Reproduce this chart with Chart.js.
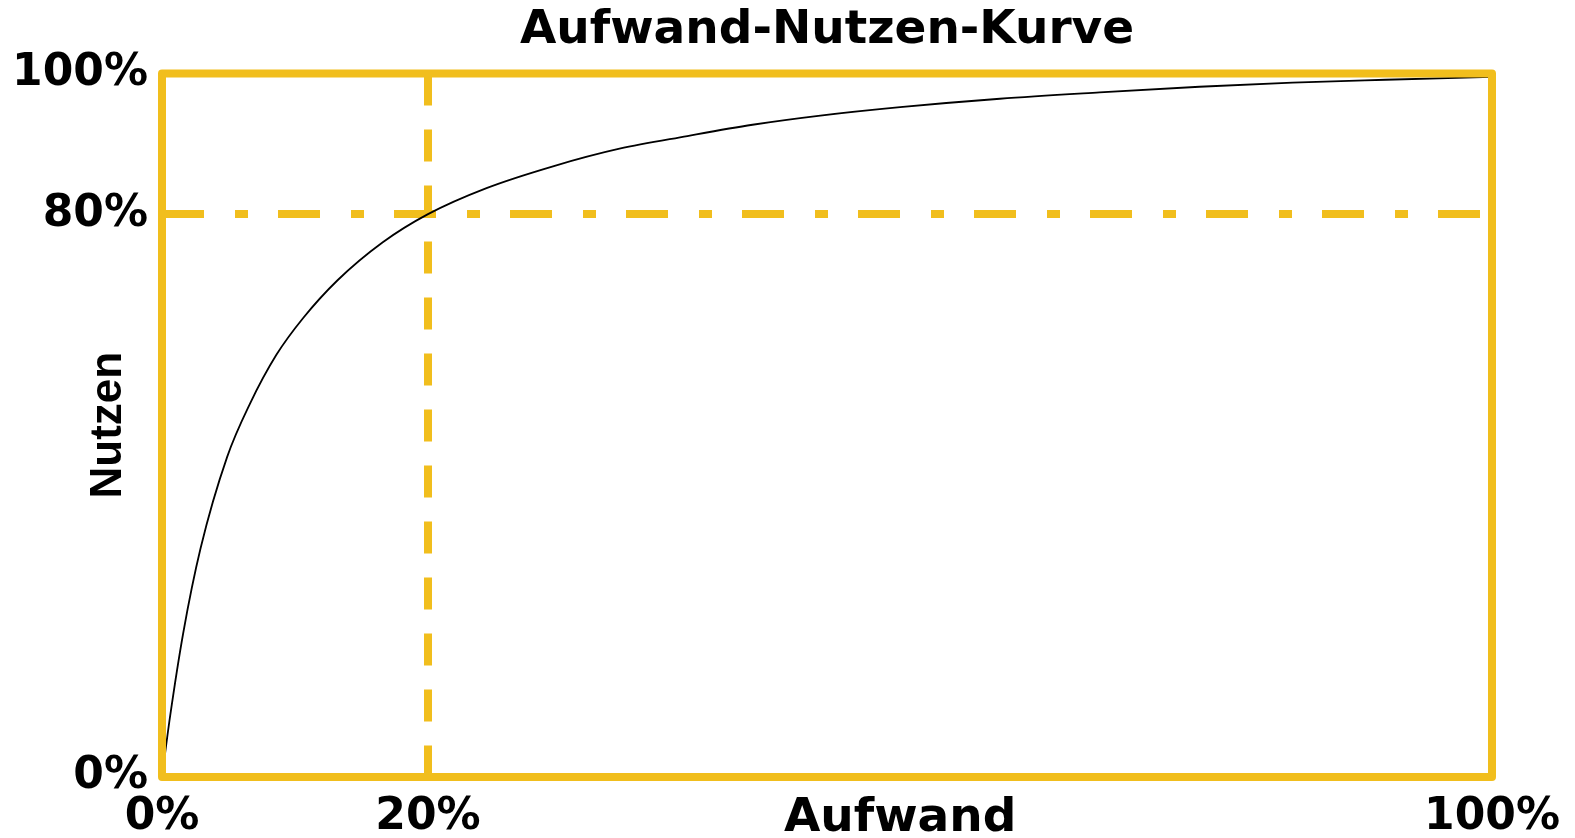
<!DOCTYPE html>
<html>
<head>
<meta charset="utf-8">
<title>Aufwand-Nutzen-Kurve</title>
<script src="https://cdn.jsdelivr.net/npm/chart.js@4/dist/chart.umd.min.js"></script>
<style>
    html, body { margin: 0; padding: 0; background: #ffffff; }
    #chart { display: block; }
</style>
</head>
<body>
<canvas id="chart" width="1575" height="838"></canvas>
<script>
// Curve: effort (%) vs benefit (%)
const effort  = [0, 0.6, 1.6, 2.9, 4.9, 6.6, 8.6, 10.6, 13.2, 16.6, 20, 24.4, 29.4, 34.4, 39.5, 44.4, 49.5, 55.5, 63, 70.5, 78, 85, 92, 100];
const benefit = [0, 8.5, 20.5, 32.5, 45.5, 53, 60, 65.2, 70.6, 76, 80, 83.7, 86.8, 89.3, 91.1, 92.7, 94.0, 95.2, 96.4, 97.3, 98.1, 98.7, 99.1, 99.5];

// Pareto marker lines
const markerEffort = 20;
const markerBenefit = 80;

// Tick labels
const xTickValues = [0, 20, 100];
const yTickValues = [0, 80, 100];
const xAxisTitle = 'Aufwand';
const yAxisTitle = 'Nutzen';
const chartTitle = 'Aufwand-Nutzen-Kurve';

const YELLOW = '#F1BE1D';
const AXIS_TITLE_POS = 55.5; // where "Aufwand" sits on the x axis row

// Yellow frame around the plot area
const framePlugin = {
    id: 'frame',
    afterDatasetsDraw(chart) {
        const { ctx, chartArea } = chart;
        ctx.save();
        ctx.strokeStyle = YELLOW;
        ctx.lineWidth = 8;
        ctx.lineJoin = 'round';
        ctx.strokeRect(chartArea.left, chartArea.top,
            chartArea.right - chartArea.left, chartArea.bottom - chartArea.top);
        ctx.restore();
    }
};

const curve = effort.map((x, i) => ({ x: x, y: benefit[i] }));

new Chart(document.getElementById('chart'), {
    type: 'line',
    data: {
        datasets: [
            {
                data: curve,
                borderColor: '#000000',
                borderWidth: 1.8,
                pointRadius: 0,
                cubicInterpolationMode: 'monotone',
                fill: false
            },
            {
                data: [{ x: markerEffort, y: 100 }, { x: markerEffort, y: 0 }],
                borderColor: YELLOW,
                borderWidth: 8,
                borderDash: [32, 24],
                borderCapStyle: 'butt',
                pointRadius: 0,
                tension: 0
            },
            {
                data: [{ x: 0, y: markerBenefit }, { x: 100, y: markerBenefit }],
                borderColor: YELLOW,
                borderWidth: 8,
                borderDash: [42, 31, 13, 30],
                borderCapStyle: 'butt',
                pointRadius: 0,
                tension: 0
            }
        ]
    },
    options: {
        responsive: false,
        animation: false,
        devicePixelRatio: 1,
        layout: { padding: { left: 0, right: 83, top: 0, bottom: 0 } },
        plugins: {
            legend: { display: false },
            tooltip: { enabled: false },
            title: {
                display: true,
                text: chartTitle,
                fullSize: false,
                color: '#000000',
                font: { family: 'DejaVu Sans', weight: 'bold', size: 47 },
                padding: { top: 3, bottom: 14 }
            }
        },
        scales: {
            x: {
                type: 'linear',
                min: 0,
                max: 100,
                grid: { display: false, drawTicks: false },
                border: { display: false },
                afterBuildTicks: axis => {
                    axis.ticks = xTickValues.map(v => ({ value: v }));
                    axis.ticks.splice(2, 0, { value: AXIS_TITLE_POS });
                },
                afterFit: axis => { axis.height = 61; },
                ticks: {
                    autoSkip: false,
                    maxRotation: 0,
                    minRotation: 0,
                    padding: 14,
                    color: '#000000',
                    font: ctx => ({
                        family: 'DejaVu Sans',
                        weight: 'bold',
                        size: ctx.tick && ctx.tick.value === AXIS_TITLE_POS ? 47 : 44
                    }),
                    callback: v => v === AXIS_TITLE_POS ? xAxisTitle : v + '%'
                }
            },
            y: {
                type: 'linear',
                min: 0,
                max: 100,
                grid: { display: false, drawTicks: false },
                border: { display: false },
                afterBuildTicks: axis => {
                    axis.ticks = yTickValues.map(v => ({ value: v }));
                },
                afterFit: axis => { axis.width = 162; },
                ticks: {
                    autoSkip: false,
                    padding: 14,
                    color: '#000000',
                    font: { family: 'DejaVu Sans', weight: 'bold', size: 44 },
                    callback: v => v + '%'
                },
                title: {
                    display: true,
                    text: yAxisTitle,
                    color: '#000000',
                    font: { family: 'Liberation Sans', weight: 'bold', size: 44 },
                    padding: { top: 82, bottom: 0 }
                }
            }
        }
    },
    plugins: [framePlugin]
});
</script>
</body>
</html>
